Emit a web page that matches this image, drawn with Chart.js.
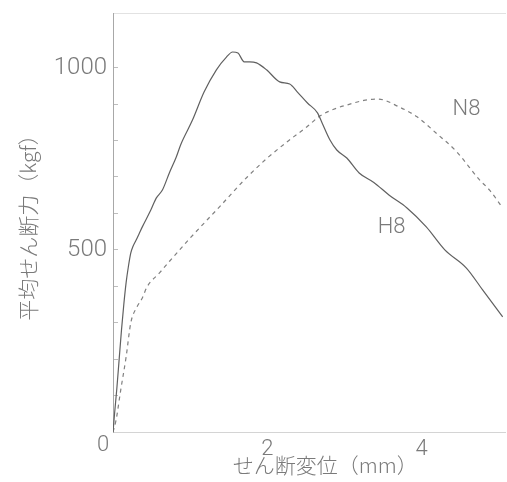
<!DOCTYPE html>
<html>
<head>
<meta charset="utf-8">
<script src="https://cdn.jsdelivr.net/npm/chart.js@4"></script>
<style>
  html, body { margin: 0; padding: 0; background: #fff; }
  #wrap { width: 507px; height: 482px; }
</style>
</head>
<body>
<div id="wrap"><canvas id="c" width="507" height="482"></canvas></div>
<script>
// ---- data ----
const h8X = [0, 0.02, 0.05, 0.08, 0.11, 0.14, 0.17, 0.20, 0.23, 0.26, 0.30, 0.34, 0.38, 0.49, 0.56, 0.64, 0.73, 0.82, 0.88, 1.03, 1.18, 1.34, 1.47, 1.55, 1.62, 1.70, 1.77, 1.86, 1.99, 2.16, 2.29, 2.39, 2.52, 2.65, 2.71, 2.81, 2.90, 3.03, 3.19, 3.38, 3.58, 3.81, 4.06, 4.30, 4.58, 4.79, 5.05];
const h8Y = [0, 50, 120, 200, 280, 350, 410, 455, 491, 510, 527, 545, 563, 609, 642, 664, 711, 755, 790, 856, 933, 994, 1029, 1043, 1040, 1016, 1016, 1013, 994, 961, 955, 933, 903, 876, 848, 802, 774, 752, 711, 685, 650, 615, 563, 500, 450, 390, 316];

const n8X = [0, 0.04, 0.10, 0.17, 0.23, 0.31, 0.38, 0.44, 0.60, 0.73, 0.99, 1.38, 1.74, 2.00, 2.29, 2.51, 2.68, 2.90, 3.04, 3.25, 3.43, 3.71, 3.94, 4.19, 4.45, 4.75, 4.88, 5.04];
const n8Y = [0, 33, 115, 206, 299, 343, 368, 398, 436, 468, 530, 618, 700, 752, 802, 837, 867, 889, 898, 910, 914, 892, 865, 820, 770, 692, 664, 618];

const xTickLabels = ['2', '4'];          // labelled x ticks (0 is shared at the corner)
const yTickLabels = ['500', '1000'];     // labelled y ticks
const cornerLabel = '0';
const seriesNames = ['H8', 'N8'];
const seriesLabelAt = [[3.61, 560], [4.58, 884]];

const xTitle = 'せん断変位（mm）';
const yTitle = '平均せん断力（kgf）';
const xTitleAt = 2.75;   // x value under the centre of the x title

const toPts = (xs, ys) => xs.map((x, i) => ({ x: x, y: ys[i] }));

const TEXT = '#7a7a7a';
const NUMFONT = "Roboto, 'Liberation Sans', sans-serif";
const JPFONT = "'Noto Sans CJK JP', sans-serif";

const annot = {
  id: 'annot',
  afterDraw(chart) {
    const { ctx, scales, chartArea } = chart;
    const xs = scales.x, ys = scales.y;
    ctx.save();
    ctx.fillStyle = TEXT;
    ctx.textAlign = 'center';
    ctx.textBaseline = 'middle';
    ctx.font = "300 22px " + NUMFONT;
    seriesNames.forEach((n, i) => {
      ctx.fillText(n, xs.getPixelForValue(seriesLabelAt[i][0]), ys.getPixelForValue(seriesLabelAt[i][1]));
    });
    ctx.fillText(cornerLabel, xs.getPixelForValue(0) - 10, ys.getPixelForValue(0) + 13);
    ctx.font = "300 21px " + JPFONT;
    ctx.fillText(xTitle, xs.getPixelForValue(xTitleAt), chartArea.bottom + 33);
    ctx.restore();
  }
};

new Chart(document.getElementById('c'), {
  type: 'line',
  data: {
    datasets: [
      {
        label: seriesNames[0],
        data: toPts(h8X, h8Y),
        borderColor: '#606060',
        borderWidth: 1.2,
        pointRadius: 0,
        cubicInterpolationMode: 'monotone',
        fill: false
      },
      {
        label: seriesNames[1],
        data: toPts(n8X, n8Y),
        borderColor: '#808080',
        borderWidth: 1.2,
        borderDash: [4, 4],
        pointRadius: 0,
        cubicInterpolationMode: 'monotone',
        fill: false
      }
    ]
  },
  options: {
    responsive: false,
    animation: false,
    devicePixelRatio: 1,
    layout: { padding: { top: 13, right: 2, bottom: 0, left: 0 } },
    plugins: { legend: { display: false }, tooltip: { enabled: false } },
    scales: {
      x: {
        type: 'linear',
        position: 'bottom',
        min: 0,
        max: 5.08,
        afterBuildTicks: s => { s.ticks = [0, 2, 4].map(v => ({ value: v })); },
        ticks: {
          color: TEXT,
          font: { family: NUMFONT, size: 22, weight: '300' },
          padding: 4,
          maxRotation: 0,
          callback: v => (xTickLabels.includes(String(v)) ? String(v) : '')
        },
        grid: { display: true, drawOnChartArea: false, drawTicks: false },
        border: { display: true, color: '#d4d4d4', width: 1 },
        title: { display: false },
        afterFit: s => { s.height = 50; s.paddingLeft = 0; s.paddingRight = 0; }
      },
      x2: {
        type: 'linear',
        position: 'top',
        min: 0,
        max: 5.08,
        ticks: { display: false },
        grid: { display: false, drawTicks: false },
        border: { display: true, color: '#e2e2e2', width: 1, dash: [3, 5] },
        afterFit: s => { s.height = 0; s.paddingLeft = 0; s.paddingRight = 0; }
      },
      y: {
        type: 'linear',
        position: 'left',
        min: 0,
        max: 1150,
        ticks: {
          stepSize: 100,
          color: TEXT,
          font: { family: NUMFONT, size: 24, weight: '300' },
          padding: 11,
          callback: v => (yTickLabels.includes(String(v)) ? String(v) : '')
        },
        grid: { drawOnChartArea: false, drawTicks: true, tickLength: -5, color: '#bdbdbd' },
        border: { display: true, color: '#a8a8a8', width: 1 },
        title: {
          display: true,
          text: yTitle,
          color: TEXT,
          font: { family: JPFONT, size: 21, weight: '300' },
          padding: { top: 15, bottom: 0 }
        },
        afterFit: s => { s.width = 113; s.paddingTop = 0; s.paddingBottom = 0; }
      }
    }
  },
  plugins: [annot]
});
</script>
</body>
</html>
